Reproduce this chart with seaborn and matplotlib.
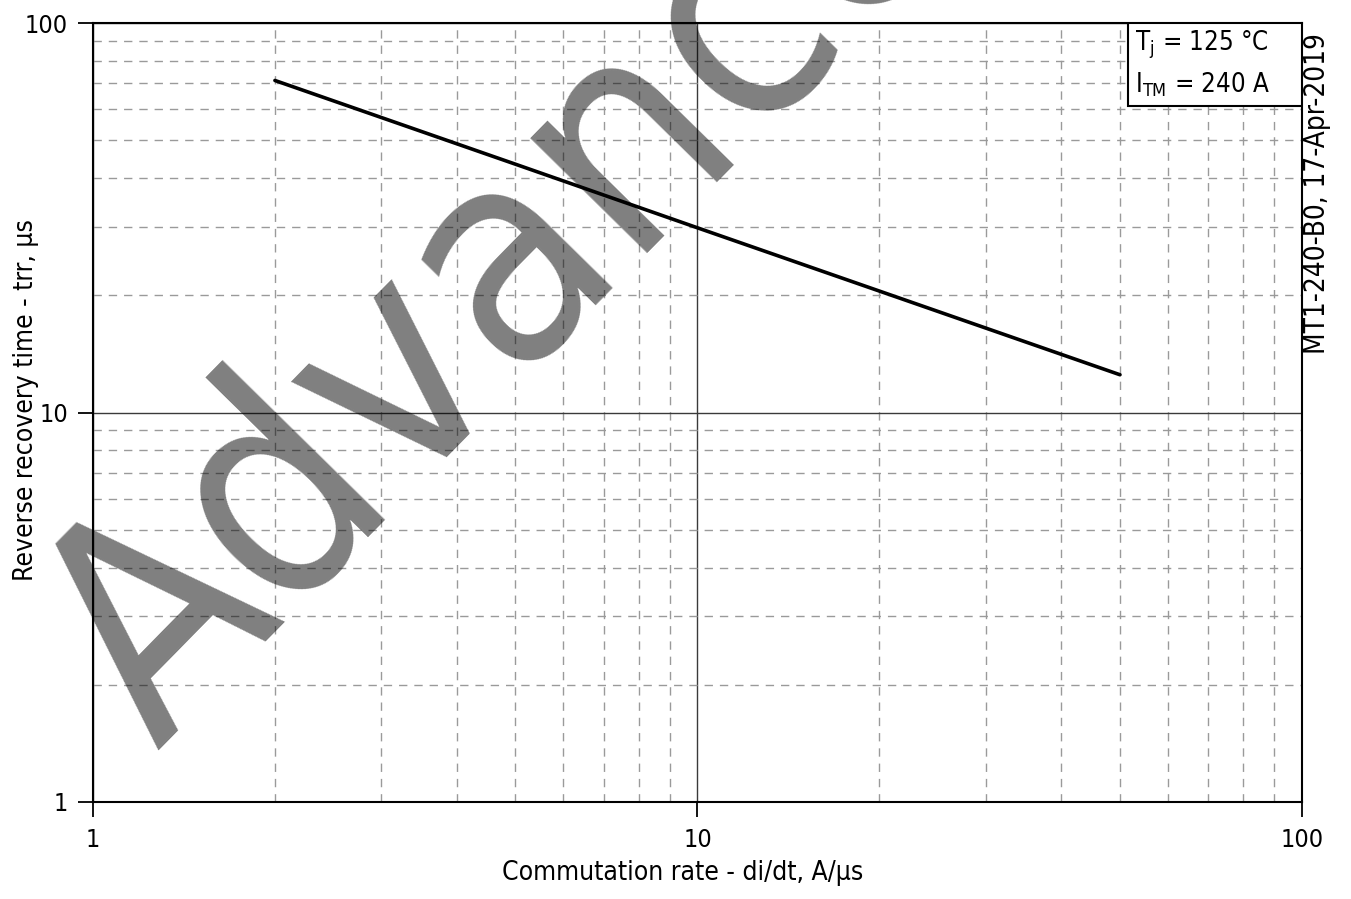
import matplotlib
matplotlib.use("Agg")
import matplotlib.pyplot as plt
from matplotlib.patches import Rectangle
from matplotlib.ticker import LogLocator, FixedLocator, NullFormatter
import seaborn as sns
import pandas as pd

# Reverse recovery time vs. commutation rate (log-log)
di_dt = [2, 5, 10, 20, 50]
trr = [71.2, 43.4, 29.8, 20.5, 12.5]

x_ticks = [1, 10, 100]
y_ticks = [1, 10, 100]
tick_labels = ["1", "10", "100"]

sns.set_theme(style="white")
plt.rcParams["font.family"] = ["DejaVu Sans Condensed", "DejaVu Sans"]
plt.rcParams["font.stretch"] = "condensed"
plt.rcParams["mathtext.default"] = "regular"
plt.rcParams["text.color"] = "black"
plt.rcParams["axes.labelcolor"] = "black"
plt.rcParams["xtick.color"] = "black"
plt.rcParams["ytick.color"] = "black"

fig = plt.figure(figsize=(13.51, 8.99), dpi=100)
ax = fig.add_axes([0.0688, 0.1079, 0.8949, 0.8665])

df = pd.DataFrame({"di/dt": di_dt, "trr": trr})
sns.lineplot(data=df, x="di/dt", y="trr", ax=ax, color="black", linewidth=2.6, zorder=4)

ax.set_xscale("log")
ax.set_yscale("log")
ax.set_xlim(1, 100)
ax.set_ylim(1, 100)

ax.xaxis.set_major_locator(FixedLocator(x_ticks))
ax.yaxis.set_major_locator(FixedLocator(y_ticks))
ax.set_xticklabels(tick_labels)
ax.set_yticklabels(tick_labels)
ax.xaxis.set_minor_locator(LogLocator(base=10, subs=range(2, 10)))
ax.yaxis.set_minor_locator(LogLocator(base=10, subs=range(2, 10)))
ax.xaxis.set_minor_formatter(NullFormatter())
ax.yaxis.set_minor_formatter(NullFormatter())

ax.grid(which="major", color="#3a3a3a", linewidth=1.0, linestyle="-")
ax.grid(which="minor", color="#9a9a9a", linewidth=1.0, linestyle=(0, (6, 5)))
ax.set_axisbelow(True)

ax.tick_params(which="major", direction="out", length=11, width=1.3, color="black",
               labelsize=18, left=True, bottom=True)
ax.tick_params(axis="x", which="major", pad=8)
ax.tick_params(axis="y", which="major", pad=7)
ax.tick_params(which="minor", length=0)
for s in ax.spines.values():
    s.set_color("black")
    s.set_linewidth(1.5)

ax.set_xlabel("Commutation rate - di/dt, A/µs", fontsize=19)
ax.xaxis.set_label_coords(0.488, -0.074)
ax.set_ylabel("Reverse recovery time - trr, µs", fontsize=19)
ax.yaxis.set_label_coords(-0.0445, 0.516)

# Conditions box in the upper right corner
ax.add_patch(Rectangle((0.856, 0.8934), 0.144, 0.1066, transform=ax.transAxes,
                       facecolor="white", edgecolor="black", linewidth=1.5, zorder=6))
ax.text(0.862, 0.9653, "T$_{j}$ = 125 °C", transform=ax.transAxes,
        ha="left", va="baseline", fontsize=18.5, zorder=7)
ax.text(0.862, 0.9114, "I$_{TM}$ = 240 A", transform=ax.transAxes,
        ha="left", va="baseline", fontsize=18.5, zorder=7)

# Document reference on the right margin
fig.text(0.9745, 0.9633, "MT1-240-B0, 17-Apr-2019", rotation=90, ha="center", va="top", fontsize=20)

# Watermark
ax.text(0.1162, 0.1657, "Advance", transform=fig.transFigure, rotation=45.5,
        ha="left", va="baseline", fontsize=216, color="black", alpha=0.5,
        family=["DejaVu Sans Condensed", "DejaVu Sans"], fontstretch="condensed",
        clip_on=False, zorder=3, rotation_mode="anchor")

fig.savefig("out.png", dpi=100)
